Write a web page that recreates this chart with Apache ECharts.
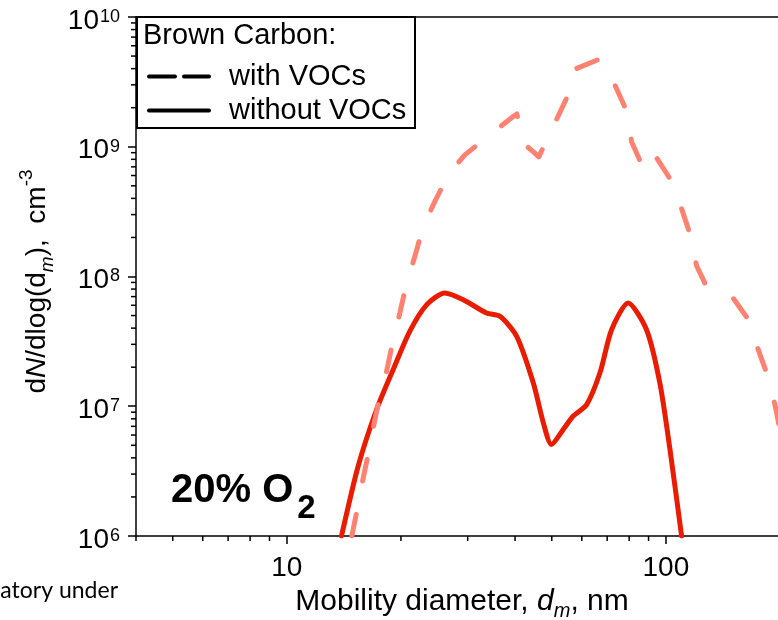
<!DOCTYPE html>
<html>
<head>
<meta charset="utf-8">
<script src="https://cdn.jsdelivr.net/npm/echarts@6/dist/echarts.min.js"></script>
<style>
html,body{margin:0;padding:0;background:#fff;}
#chart{width:778px;height:620px;}
</style>
</head>
<body>
<div id="chart"></div>
<script>
// ---- data ----
const withX = [14.84, 15.27, 15.74, 16.39, 16.90, 17.59, 18.33, 19.08, 19.87, 20.70, 21.77, 22.89, 24.58, 26.65, 29.49, 34.32, 39.55, 40.45, 42.03, 45.11, 46.2, 50.93, 54.70, 56.94, 64.97, 67.0, 73.36, 78.76, 81.20, 86.28, 89.6, 93.54, 102.4, 110.0, 115.7, 120.5, 127.5, 149.1, 164.9, 175.2, 185.1, 193.9, 197.5, 200];
const withY = [1.0e6, 1.51e6, 2.42e6, 4.25e6, 6.82e6, 1.19e7, 1.86e7, 3.26e7, 5.24e7, 8.91e7, 1.43e8, 2.43e8, 3.79e8, 6.08e8, 8.66e8, 1.235e9, 1.708e9, 1.79e9, 1.066e9, 8.93e8, 8.36e8, 1.52e9, 2.366e9, 3.91e9, 4.585e9, 4.75e9, 2.996e9, 1.89e9, 1.091e9, 7.32e8, 6.64e8, 8.60e8, 5.70e8, 3.33e8, 2.14e8, 1.21e8, 8.54e7, 7.07e7, 4.68e7, 2.73e7, 1.75e7, 1.03e7, 7.9e6, 6.5e6];
const withoutX = [13.94, 15.42, 17.25, 19.08, 21.1, 23.4, 26.1, 29.2, 33.6, 36.5, 40.4, 44.7, 47.5, 49.9, 53.6, 56.9, 61.8, 67.0, 71.9, 79.5, 88.9, 96.4, 102.5, 110.0];
const withoutY = [1.0e6, 3.45e6, 9.44e6, 1.92e7, 3.78e7, 6.07e7, 7.46e7, 6.62e7, 5.24e7, 4.93e7, 3.46e7, 1.51e7, 7.45e6, 5.07e6, 6.62e6, 8.38e6, 1.03e7, 1.81e7, 3.89e7, 6.25e7, 3.89e7, 1.51e7, 4.65e6, 1.0e6];
const seriesNames = ['with VOCs', 'without VOCs'];
const legendTitle = 'Brown Carbon:';
const xMinorTicks = [4, 5, 6, 7, 8, 9, 20, 30, 40, 50, 60, 70, 80, 90, 200];
const yMinorTicks = [2e6,3e6,4e6,5e6,6e6,7e6,8e6,9e6, 2e7,3e7,4e7,5e7,6e7,7e7,8e7,9e7, 2e8,3e8,4e8,5e8,6e8,7e8,8e8,9e8, 2e9,3e9,4e9,5e9,6e9,7e9,8e9,9e9];
const xRange = [4, 200];
const yRange = [1e6, 1e10];

// ---- chart ----
const FONT = '"Liberation Sans", Arial, Helvetica, sans-serif';
const chart = echarts.init(document.getElementById('chart'));

function zip(a, b) { return a.map((v, i) => [v, b[i]]); }

const option = {
  backgroundColor: '#fff',
  animation: false,
  grid: { left: 136, top: 17, width: 644, height: 519, show: false, containLabel: false, outerBoundsMode: 'none' },
  xAxis: [{
    type: 'log', logBase: 10, min: xRange[0], max: xRange[1],
    axisLine: { lineStyle: { color: '#000', width: 1.5 } },
    axisTick: { length: 8, lineStyle: { color: '#000', width: 1.5 } },
    splitLine: { show: false },
    axisLabel: {
      showMinLabel: false, showMaxLabel: false, margin: 18,
      color: '#000', fontSize: 28, fontFamily: FONT
    },
    name: '{n|Mobility diameter, }{i|d}{isub|m}{n|, nm}',
    nameLocation: 'middle', nameGap: 35,
    nameTextStyle: {
      padding: [0, 0, 0, 8],
      rich: {
        n: { fontSize: 30, fontFamily: FONT, lineHeight: 40, verticalAlign: 'middle', color: '#000' },
        i: { fontSize: 30, fontStyle: 'italic', fontFamily: FONT, lineHeight: 40, verticalAlign: 'middle', color: '#000' },
        isub: { fontSize: 20, fontStyle: 'italic', fontFamily: FONT, lineHeight: 40, verticalAlign: 'bottom', color: '#000' }
      }
    }
  }, {
    type: 'log', logBase: 10, min: xRange[0], max: xRange[1], position: 'top',
    axisLine: { lineStyle: { color: '#000', width: 1.5 } },
    axisTick: { show: false }, axisLabel: { show: false }, splitLine: { show: false }
  }],
  yAxis: {
    type: 'log', logBase: 10, min: yRange[0], max: yRange[1],
    axisLine: { lineStyle: { color: '#000', width: 1.5 } },
    axisTick: { length: 8, lineStyle: { color: '#000', width: 1.5 } },
    splitLine: { show: false },
    axisLabel: {
      margin: 16, color: '#000',
      formatter: function (v) { return '{b|10}{s|' + Math.round(Math.log10(v)) + '}'; },
      rich: {
        b: { fontSize: 28, fontFamily: FONT, color: '#000', lineHeight: 36, verticalAlign: 'bottom' },
        s: { fontSize: 18, fontFamily: FONT, color: '#000', lineHeight: 36, verticalAlign: 'top', padding: [9, 0, 0, 1] }
      }
    },
    name: '{n|d}{ni|N}{n|/dlog(d}{sub|m}{n|),  cm}{sup|-3}',
    nameLocation: 'middle', nameGap: 72,
    nameTextStyle: {
      padding: [0, 10, 0, 0],
      rich: {
        n: { fontSize: 28, fontFamily: FONT, color: '#000', lineHeight: 40, verticalAlign: 'middle' },
        ni: { fontSize: 28, fontFamily: FONT, fontStyle: 'italic', color: '#000', lineHeight: 40, verticalAlign: 'middle' },
        sub: { fontSize: 19, fontFamily: FONT, fontStyle: 'italic', color: '#000', lineHeight: 40, verticalAlign: 'bottom' },
        sup: { fontSize: 19, fontFamily: FONT, color: '#000', lineHeight: 40, verticalAlign: 'top' }
      }
    }
  },
  legend: {
    orient: 'vertical', left: 147, top: 55, padding: 0,
    itemWidth: 60, itemHeight: 14, itemGap: -9, z: 10,
    textStyle: { color: '#000', fontSize: 29, fontFamily: FONT, lineHeight: 35, padding: [0, 0, 8, 15] },
    data: [
      { name: seriesNames[0], lineStyle: { color: '#000', width: 4, type: [26, 9] }, itemStyle: { color: 'rgba(0,0,0,0)', borderWidth: 0, opacity: 0 } },
      { name: seriesNames[1], lineStyle: { color: '#000', width: 4, type: 'solid' }, itemStyle: { color: 'rgba(0,0,0,0)', borderWidth: 0, opacity: 0 } }
    ]
  },
  graphic: [
    { type: 'rect', z: 5, shape: { x: 137, y: 17, width: 278, height: 111 },
      style: { fill: '#fff', stroke: '#000', lineWidth: 2 } },
    { type: 'text', z: 6, x: 143, y: 36,
      style: { text: legendTitle, fill: '#000', font: '29px ' + FONT, verticalAlign: 'middle' } },
    { type: 'text', z: 6, x: 171, y: 498,
      style: {
        text: '{b|20% O}{s|2}', verticalAlign: 'middle',
        rich: {
          b: { fontSize: 40, fontWeight: 'bold', fontFamily: FONT, fill: '#000', lineHeight: 55, verticalAlign: 'top' },
          s: { fontSize: 33, fontWeight: 'bold', fontFamily: FONT, fill: '#000', lineHeight: 55, verticalAlign: 'bottom', padding: [0, 0, 0, 4] }
        }
      } },
    { type: 'text', z: 6, x: 118, y: 591,
      style: { text: 'atory under', fill: '#000', font: '23px Lato, "Open Sans", sans-serif', align: 'right', verticalAlign: 'middle' } }
  ],
  series: [
    {
      name: seriesNames[1], type: 'line', data: zip(withoutX, withoutY),
      showSymbol: false, symbol: 'none', smooth: 0.25, z: 3,
      lineStyle: { color: '#e81c00', width: 5, cap: 'round', join: 'round' },
      itemStyle: { color: '#e81c00' }
    },
    {
      name: seriesNames[0], type: 'line', data: zip(withX, withY),
      showSymbol: false, symbol: 'none', smooth: false, z: 4,
      lineStyle: { color: '#ff8172', width: 5, type: [22, 34], cap: 'round', join: 'round' },
      itemStyle: { color: '#ff8172' }
    },
    {
      type: 'custom', silent: true, clip: false, z: 2,
      data: xMinorTicks.map(v => [v, yRange[0]]),
      renderItem: function (params, api) {
        const p = api.coord([api.value(0), api.value(1)]);
        return { type: 'line', shape: { x1: p[0], y1: p[1], x2: p[0], y2: p[1] + 5 }, style: { stroke: '#000', lineWidth: 1.5 } };
      }
    },
    {
      type: 'custom', silent: true, clip: false, z: 2,
      data: yMinorTicks.map(v => [xRange[0], v]),
      renderItem: function (params, api) {
        const p = api.coord([api.value(0), api.value(1)]);
        return { type: 'line', shape: { x1: p[0] - 5, y1: p[1], x2: p[0], y2: p[1] }, style: { stroke: '#000', lineWidth: 1.5 } };
      }
    }
  ]
};
chart.setOption(option);
</script>
</body>
</html>
